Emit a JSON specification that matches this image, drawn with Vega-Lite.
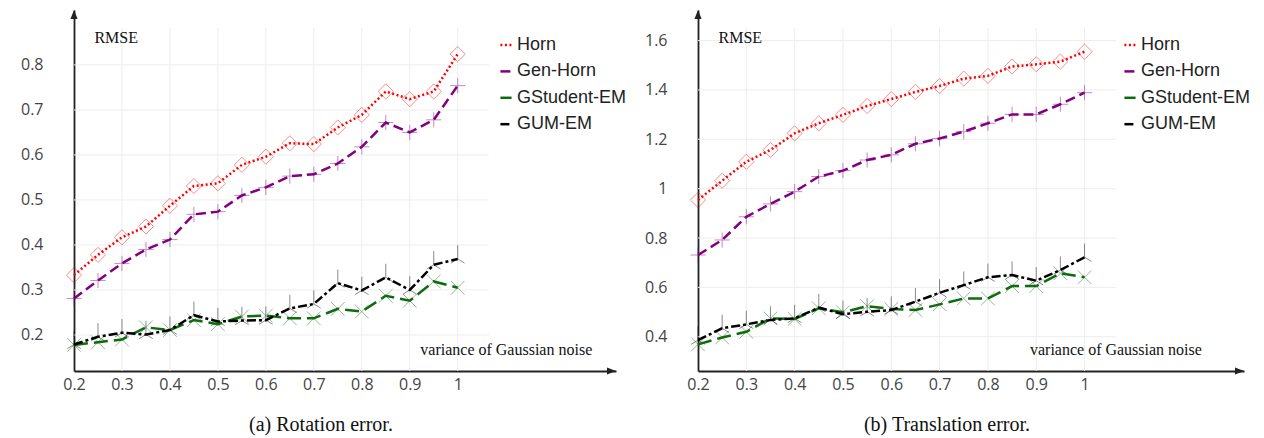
{
  "$schema": "https://vega.github.io/schema/vega-lite/v6.json",
  "background": "white",
  "padding": {"left": 20, "top": 10, "right": 5, "bottom": 5},
  "bounds": "flush",
  "spacing": 82,
  "datasets": {
    "rot": [
      {"x": 0.2, "Horn": 0.333, "Gen-Horn": 0.281, "GStudent-EM": 0.178, "GUM-EM": 0.179},
      {"x": 0.25, "Horn": 0.378, "Gen-Horn": 0.321, "GStudent-EM": 0.184, "GUM-EM": 0.196},
      {"x": 0.3, "Horn": 0.417, "Gen-Horn": 0.359, "GStudent-EM": 0.190, "GUM-EM": 0.205},
      {"x": 0.35, "Horn": 0.441, "Gen-Horn": 0.390, "GStudent-EM": 0.217, "GUM-EM": 0.201},
      {"x": 0.4, "Horn": 0.487, "Gen-Horn": 0.412, "GStudent-EM": 0.211, "GUM-EM": 0.211},
      {"x": 0.45, "Horn": 0.531, "Gen-Horn": 0.468, "GStudent-EM": 0.233, "GUM-EM": 0.244},
      {"x": 0.5, "Horn": 0.537, "Gen-Horn": 0.474, "GStudent-EM": 0.224, "GUM-EM": 0.230},
      {"x": 0.55, "Horn": 0.578, "Gen-Horn": 0.510, "GStudent-EM": 0.241, "GUM-EM": 0.232},
      {"x": 0.6, "Horn": 0.596, "Gen-Horn": 0.528, "GStudent-EM": 0.243, "GUM-EM": 0.233},
      {"x": 0.65, "Horn": 0.626, "Gen-Horn": 0.553, "GStudent-EM": 0.237, "GUM-EM": 0.259},
      {"x": 0.7, "Horn": 0.624, "Gen-Horn": 0.557, "GStudent-EM": 0.237, "GUM-EM": 0.269},
      {"x": 0.75, "Horn": 0.661, "Gen-Horn": 0.581, "GStudent-EM": 0.258, "GUM-EM": 0.315},
      {"x": 0.8, "Horn": 0.689, "Gen-Horn": 0.618, "GStudent-EM": 0.252, "GUM-EM": 0.299},
      {"x": 0.85, "Horn": 0.741, "Gen-Horn": 0.672, "GStudent-EM": 0.287, "GUM-EM": 0.328},
      {"x": 0.9, "Horn": 0.724, "Gen-Horn": 0.650, "GStudent-EM": 0.276, "GUM-EM": 0.300},
      {"x": 0.95, "Horn": 0.741, "Gen-Horn": 0.678, "GStudent-EM": 0.319, "GUM-EM": 0.356},
      {"x": 1.0, "Horn": 0.824, "Gen-Horn": 0.754, "GStudent-EM": 0.305, "GUM-EM": 0.369}
    ],
    "trans": [
      {"x": 0.2, "Horn": 0.954, "Gen-Horn": 0.731, "GStudent-EM": 0.369, "GUM-EM": 0.386},
      {"x": 0.25, "Horn": 1.032, "Gen-Horn": 0.792, "GStudent-EM": 0.397, "GUM-EM": 0.434},
      {"x": 0.3, "Horn": 1.109, "Gen-Horn": 0.886, "GStudent-EM": 0.420, "GUM-EM": 0.450},
      {"x": 0.35, "Horn": 1.157, "Gen-Horn": 0.938, "GStudent-EM": 0.474, "GUM-EM": 0.468},
      {"x": 0.4, "Horn": 1.224, "Gen-Horn": 0.988, "GStudent-EM": 0.472, "GUM-EM": 0.474},
      {"x": 0.45, "Horn": 1.265, "Gen-Horn": 1.049, "GStudent-EM": 0.515, "GUM-EM": 0.518},
      {"x": 0.5, "Horn": 1.299, "Gen-Horn": 1.073, "GStudent-EM": 0.499, "GUM-EM": 0.491},
      {"x": 0.55, "Horn": 1.335, "Gen-Horn": 1.116, "GStudent-EM": 0.524, "GUM-EM": 0.501},
      {"x": 0.6, "Horn": 1.363, "Gen-Horn": 1.137, "GStudent-EM": 0.512, "GUM-EM": 0.508},
      {"x": 0.65, "Horn": 1.392, "Gen-Horn": 1.182, "GStudent-EM": 0.508, "GUM-EM": 0.542},
      {"x": 0.7, "Horn": 1.416, "Gen-Horn": 1.203, "GStudent-EM": 0.531, "GUM-EM": 0.578},
      {"x": 0.75, "Horn": 1.446, "Gen-Horn": 1.231, "GStudent-EM": 0.555, "GUM-EM": 0.609},
      {"x": 0.8, "Horn": 1.457, "Gen-Horn": 1.265, "GStudent-EM": 0.555, "GUM-EM": 0.641},
      {"x": 0.85, "Horn": 1.495, "Gen-Horn": 1.301, "GStudent-EM": 0.605, "GUM-EM": 0.650},
      {"x": 0.9, "Horn": 1.504, "Gen-Horn": 1.301, "GStudent-EM": 0.605, "GUM-EM": 0.627},
      {"x": 0.95, "Horn": 1.515, "Gen-Horn": 1.342, "GStudent-EM": 0.657, "GUM-EM": 0.670},
      {"x": 1.0, "Horn": 1.555, "Gen-Horn": 1.389, "GStudent-EM": 0.641, "GUM-EM": 0.722}
    ]
  },
  "hconcat": [
    {
      "width": 542,
      "height": 361,
      "title": {"text": "(a) Rotation error.", "orient": "bottom", "anchor": "middle", "dx": -24, "offset": 23},
      "layer": [
        {
          "data": {"values": [{"x": 0.3}, {"x": 0.4}, {"x": 0.5}, {"x": 0.6}, {"x": 0.7}, {"x": 0.8}, {"x": 0.9}, {"x": 1.0}]},
          "mark": {"type": "rule", "color": "#ededed", "strokeWidth": 1},
          "encoding": {
            "x": {"field": "x", "type": "quantitative", "title": null},
            "y": {"datum": 0.12, "type": "quantitative", "title": null},
            "y2": {"datum": 0.882}
          }
        },
        {
          "data": {"values": [{"value": 0.2}, {"value": 0.3}, {"value": 0.4}, {"value": 0.5}, {"value": 0.6}, {"value": 0.7}, {"value": 0.8}]},
          "mark": {"type": "rule", "color": "#ededed", "strokeWidth": 1},
          "encoding": {
            "y": {"field": "value", "type": "quantitative", "title": null},
            "x": {"datum": 0.2, "type": "quantitative", "title": null},
            "x2": {"datum": 1.065}
          }
        },
        {
          "data": {"name": "rot"},
          "transform": [{"fold": ["Horn", "Gen-Horn", "GStudent-EM", "GUM-EM"], "as": ["series", "value"]}],
          "mark": {"type": "point", "filled": false, "size": 230, "strokeWidth": 1, "opacity": 0.45},
          "encoding": {
            "x": {"field": "x", "type": "quantitative", "title": null},
            "y": {"field": "value", "type": "quantitative", "title": null},
            "stroke": {"field": "series", "type": "nominal", "legend": null,
                      "scale": {"domain": ["Horn", "Gen-Horn", "GStudent-EM", "GUM-EM"], "range": ["#ff0000", "#800080", "#0f6b0f", "#000000"]}},
            "shape": {"field": "series", "type": "nominal", "legend": null,
                      "scale": {"domain": ["Horn", "Gen-Horn", "GStudent-EM", "GUM-EM"], "range": ["diamond", "M-1,0L1,0M0,-1L0,1", "M-0.9,-0.9L0.9,0.9M-0.9,0.9L0.9,-0.9", "M0,0L0,-1.8M0,0L-0.9,0.55M0,0L0.9,0.55"]}}
          }
        },
        {
          "data": {"name": "rot"},
          "transform": [{"fold": ["Horn", "Gen-Horn", "GStudent-EM", "GUM-EM"], "as": ["series", "value"]}],
          "mark": {"type": "line", "strokeWidth": 2.5},
          "encoding": {
            "x": {"field": "x", "type": "quantitative", "title": null,
                  "scale": {"domain": [0.2, 1.33], "nice": false, "zero": false},
                  "axis": {"values": [0.2, 0.3, 0.4, 0.5, 0.6, 0.7, 0.8, 0.9, 1.0], "format": "~g", "labelFlush": false}},
            "y": {"field": "value", "type": "quantitative", "title": null,
                  "scale": {"domain": [0.12, 0.922], "nice": false, "zero": false},
                  "axis": {"values": [0.2, 0.3, 0.4, 0.5, 0.6, 0.7, 0.8], "format": "~g", "labelFlush": false}},
            "color": {"field": "series", "type": "nominal",
                      "scale": {"domain": ["Horn", "Gen-Horn", "GStudent-EM", "GUM-EM"], "range": ["#ff0000", "#800080", "#0f6b0f", "#000000"]},
                      "legend": {"orient": "none", "legendX": 423, "legendY": 26, "title": null}},
            "strokeDash": {"field": "series", "type": "nominal",
                      "scale": {"domain": ["Horn", "Gen-Horn", "GStudent-EM", "GUM-EM"], "range": [[2, 2.5], [10, 5], [14, 6], [9, 3, 3, 3]]},
                      "legend": {"orient": "none", "legendX": 423, "legendY": 26, "title": null}}
          }
        },
        {
          "data": {"values": [{}]},
          "mark": {"type": "point", "filled": true, "color": "#222", "opacity": 1, "size": 81, "shape": "M-0.8,2L0,0L0.8,2Z"},
          "encoding": {
            "x": {"datum": 0.2, "type": "quantitative", "title": null},
            "y": {"datum": 0.922, "type": "quantitative", "title": null}
          }
        },
        {
          "data": {"values": [{}]},
          "mark": {"type": "point", "filled": true, "color": "#222", "opacity": 1, "size": 81, "shape": "M-2,-0.8L0,0L-2,0.8Z"},
          "encoding": {
            "x": {"datum": 1.33, "type": "quantitative", "title": null},
            "y": {"datum": 0.12, "type": "quantitative", "title": null}
          }
        },
        {
          "data": {"values": [{}]},
          "mark": {"type": "text", "text": "RMSE", "font": "Liberation Serif", "fontSize": 16, "color": "#111", "align": "center", "baseline": "middle"},
          "encoding": {
            "x": {"datum": 0.288, "type": "quantitative", "title": null},
            "y": {"datum": 0.859, "type": "quantitative", "title": null}
          }
        },
        {
          "data": {"values": [{}]},
          "mark": {"type": "text", "text": "variance of Gaussian noise", "font": "Liberation Serif", "fontSize": 16, "color": "#111", "align": "left", "baseline": "middle"},
          "encoding": {
            "x": {"datum": 0.922, "type": "quantitative", "title": null},
            "y": {"datum": 0.1667, "type": "quantitative", "title": null}
          }
        }
      ]
    },
    {
      "width": 546,
      "height": 361,
      "title": {"text": "(b) Translation error.", "orient": "bottom", "anchor": "middle", "dx": -24, "offset": 23},
      "layer": [
        {
          "data": {"values": [{"x": 0.3}, {"x": 0.4}, {"x": 0.5}, {"x": 0.6}, {"x": 0.7}, {"x": 0.8}, {"x": 0.9}, {"x": 1.0}]},
          "mark": {"type": "rule", "color": "#ededed", "strokeWidth": 1},
          "encoding": {
            "x": {"field": "x", "type": "quantitative", "title": null},
            "y": {"datum": 0.261, "type": "quantitative", "title": null},
            "y2": {"datum": 1.651}
          }
        },
        {
          "data": {"values": [{"value": 0.4}, {"value": 0.6}, {"value": 0.8}, {"value": 1.0}, {"value": 1.2}, {"value": 1.4}, {"value": 1.6}]},
          "mark": {"type": "rule", "color": "#ededed", "strokeWidth": 1},
          "encoding": {
            "y": {"field": "value", "type": "quantitative", "title": null},
            "x": {"datum": 0.2, "type": "quantitative", "title": null},
            "x2": {"datum": 1.065}
          }
        },
        {
          "data": {"name": "trans"},
          "transform": [{"fold": ["Horn", "Gen-Horn", "GStudent-EM", "GUM-EM"], "as": ["series", "value"]}],
          "mark": {"type": "point", "filled": false, "size": 230, "strokeWidth": 1, "opacity": 0.45},
          "encoding": {
            "x": {"field": "x", "type": "quantitative", "title": null},
            "y": {"field": "value", "type": "quantitative", "title": null},
            "stroke": {"field": "series", "type": "nominal", "legend": null,
                      "scale": {"domain": ["Horn", "Gen-Horn", "GStudent-EM", "GUM-EM"], "range": ["#ff0000", "#800080", "#0f6b0f", "#000000"]}},
            "shape": {"field": "series", "type": "nominal", "legend": null,
                      "scale": {"domain": ["Horn", "Gen-Horn", "GStudent-EM", "GUM-EM"], "range": ["diamond", "M-1,0L1,0M0,-1L0,1", "M-0.9,-0.9L0.9,0.9M-0.9,0.9L0.9,-0.9", "M0,0L0,-1.8M0,0L-0.9,0.55M0,0L0.9,0.55"]}}
          }
        },
        {
          "data": {"name": "trans"},
          "transform": [{"fold": ["Horn", "Gen-Horn", "GStudent-EM", "GUM-EM"], "as": ["series", "value"]}],
          "mark": {"type": "line", "strokeWidth": 2.5},
          "encoding": {
            "x": {"field": "x", "type": "quantitative", "title": null,
                  "scale": {"domain": [0.2, 1.33], "nice": false, "zero": false},
                  "axis": {"values": [0.2, 0.3, 0.4, 0.5, 0.6, 0.7, 0.8, 0.9, 1.0], "format": "~g", "labelFlush": false}},
            "y": {"field": "value", "type": "quantitative", "title": null,
                  "scale": {"domain": [0.261, 1.724], "nice": false, "zero": false},
                  "axis": {"values": [0.4, 0.6, 0.8, 1.0, 1.2, 1.4, 1.6], "format": "~g", "labelFlush": false}},
            "color": {"field": "series", "type": "nominal",
                      "scale": {"domain": ["Horn", "Gen-Horn", "GStudent-EM", "GUM-EM"], "range": ["#ff0000", "#800080", "#0f6b0f", "#000000"]},
                      "legend": {"orient": "none", "legendX": 423, "legendY": 26, "title": null}},
            "strokeDash": {"field": "series", "type": "nominal",
                      "scale": {"domain": ["Horn", "Gen-Horn", "GStudent-EM", "GUM-EM"], "range": [[2, 2.5], [10, 5], [14, 6], [9, 3, 3, 3]]},
                      "legend": {"orient": "none", "legendX": 423, "legendY": 26, "title": null}}
          }
        },
        {
          "data": {"values": [{}]},
          "mark": {"type": "point", "filled": true, "color": "#222", "opacity": 1, "size": 81, "shape": "M-0.8,2L0,0L0.8,2Z"},
          "encoding": {
            "x": {"datum": 0.2, "type": "quantitative", "title": null},
            "y": {"datum": 1.724, "type": "quantitative", "title": null}
          }
        },
        {
          "data": {"values": [{}]},
          "mark": {"type": "point", "filled": true, "color": "#222", "opacity": 1, "size": 81, "shape": "M-2,-0.8L0,0L-2,0.8Z"},
          "encoding": {
            "x": {"datum": 1.33, "type": "quantitative", "title": null},
            "y": {"datum": 0.261, "type": "quantitative", "title": null}
          }
        },
        {
          "data": {"values": [{}]},
          "mark": {"type": "text", "text": "RMSE", "font": "Liberation Serif", "fontSize": 16, "color": "#111", "align": "center", "baseline": "middle"},
          "encoding": {
            "x": {"datum": 0.2876, "type": "quantitative", "title": null},
            "y": {"datum": 1.61, "type": "quantitative", "title": null}
          }
        },
        {
          "data": {"values": [{}]},
          "mark": {"type": "text", "text": "variance of Gaussian noise", "font": "Liberation Serif", "fontSize": 16, "color": "#111", "align": "left", "baseline": "middle"},
          "encoding": {
            "x": {"datum": 0.887, "type": "quantitative", "title": null},
            "y": {"datum": 0.346, "type": "quantitative", "title": null}
          }
        }
      ]
    }
  ],
  "resolve": {
    "scale": {"color": "independent", "strokeDash": "independent"},
    "legend": {"color": "independent", "strokeDash": "independent"}
  },
  "config": {
    "view": {"stroke": null},
    "axis": {"grid": false, "ticks": false, "domainColor": "#222", "domainWidth": 1.8, "labelFont": "Open Sans", "labelFontSize": 16, "labelColor": "#444"},
    "axisX": {"labelPadding": 5},
    "axisY": {"labelPadding": 31},
    "legend": {
      "symbolType": "stroke", "symbolSize": 125, "symbolStrokeWidth": 2.5,
      "labelFont": "Liberation Sans", "labelFontSize": 18, "labelColor": "#222",
      "labelOffset": 2, "rowPadding": 8.4
    },
    "title": {"font": "Liberation Serif", "fontSize": 20, "fontWeight": "normal", "color": "#111"}
  }
}
